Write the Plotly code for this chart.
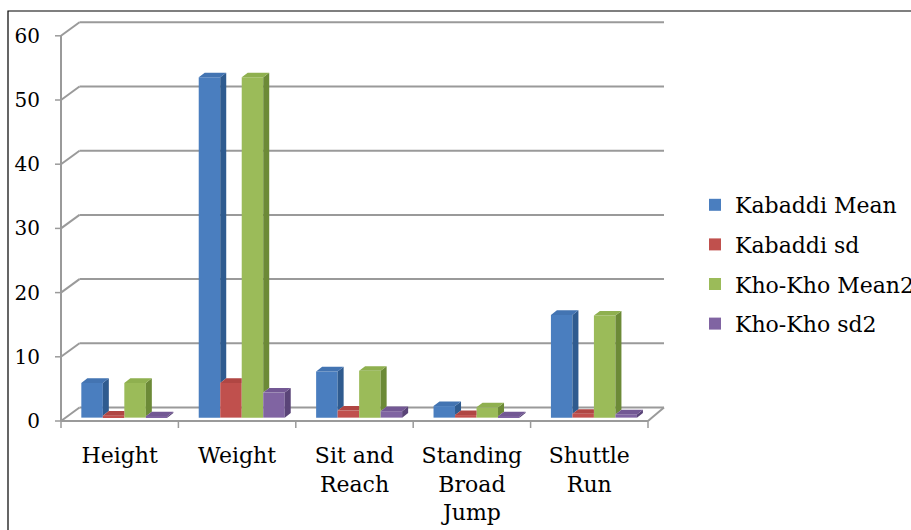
import plotly.graph_objects as go

# ---- data -------------------------------------------------------------
categories = ["Height", "Weight", "Sit and Reach", "Standing Broad Jump", "Shuttle Run"]
category_labels = ["Height", "Weight", "Sit and<br>Reach", "Standing<br>Broad<br>Jump", "Shuttle<br>Run"]
kabaddi_mean = [5.4, 53.0, 7.2, 1.8, 16.0]
kabaddi_sd = [0.3, 5.4, 1.1, 0.4, 0.6]
khokho_mean = [5.4, 53.0, 7.3, 1.6, 15.9]
khokho_sd = [0.2, 3.9, 1.0, 0.2, 0.5]
y_ticks = [0, 10, 20, 30, 40, 50, 60]

series_names = ["Kabaddi Mean", "Kabaddi sd", "Kho-Kho Mean2", "Kho-Kho sd2"]
series_values = [kabaddi_mean, kabaddi_sd, khokho_mean, khokho_sd]
# (front, side, top) shades for each series
series_colors = [
    ("#4a7ebf", "#2f5b8f", "#4374b2"),
    ("#c0504d", "#8c3532", "#b04643"),
    ("#9bbb59", "#6c8a37", "#8fb04f"),
    ("#8064a2", "#5a4478", "#735894"),
]

# ---- figure geometry ------------------------------------------------------
W, H = 911, 530
PLOT_L, PLOT_R, PLOT_T, PLOT_B = 53, 675, 15, 432
AXIS_X_PX, AXIS_Y_PX = 61, 421          # front-left corner of the floor
PX_PER_CAT, PX_PER_VAL = 117.4, 6.42

def ux(px):
    return (px - AXIS_X_PX) / PX_PER_CAT

def uy(px):
    return (AXIS_Y_PX - px) / PX_PER_VAL

def paper_x(px):
    return (px - PLOT_L) / (PLOT_R - PLOT_L)

def paper_y(px):
    return (PLOT_B - px) / (PLOT_B - PLOT_T)

x_range = [ux(PLOT_L), ux(PLOT_R)]
y_range = [uy(PLOT_B), uy(PLOT_T)]

n_cat = len(categories)
wall_dx = 18.5 / PX_PER_CAT         # depth of the box (back wall offset)
wall_dy = 13.5 / PX_PER_VAL
right_dx = 16 / PX_PER_CAT
bar_depth_frac = 0.25               # columns stand a quarter of the way back
bar_dx = 6 / PX_PER_CAT             # column thickness in depth
bar_dy = 4.6 / PX_PER_VAL
bar_w = 21.5 / PX_PER_CAT
bar_base = bar_depth_frac * wall_dy
shift_x = bar_depth_frac * wall_dx
n_ser = len(series_values)

grid_col = "#9a9a9a"
shapes = []

def seg(x0, y0, x1, y1, width=2):
    shapes.append(dict(type="line", xref="x", yref="y", x0=x0, y0=y0, x1=x1, y1=y1,
                       line=dict(color=grid_col, width=width), layer="below"))

# back wall gridlines and the diagonals on the side wall
for v in y_ticks:
    seg(wall_dx, v + wall_dy, n_cat + right_dx, v + wall_dy)
    seg(0, v, wall_dx, v + wall_dy)
    seg(-6 / PX_PER_CAT, v, 0, v, width=1.5)
# front vertical axis
seg(0, 0, 0, max(y_ticks))
# floor front edge and right edge
seg(0, 0, n_cat, 0)
seg(n_cat, 0, n_cat + right_dx, wall_dy)
# category boundary ticks
for i in range(n_cat + 1):
    seg(i, 0, i, -7 / PX_PER_VAL, width=1.5)

# outer frame of the chart
shapes.append(dict(type="rect", xref="paper", yref="paper",
                   x0=paper_x(8), x1=3, y0=-3, y1=paper_y(11),
                   line=dict(color="black", width=1.2), fillcolor="rgba(0,0,0,0)", layer="below"))

fig = go.Figure()

# front faces of the columns
positions = []
for s, (name, vals, cols) in enumerate(zip(series_names, series_values, series_colors)):
    xs = [c + 0.5 + shift_x + (s - (n_ser - 1) / 2) * bar_w for c in range(n_cat)]
    positions.append(xs)
    fig.add_trace(go.Bar(
        x=xs, y=vals, base=bar_base, width=bar_w, name=name,
        marker=dict(color=cols[0], line=dict(width=0)),
        legendgroup=name, customdata=categories,
        hovertemplate="%{customdata}: %{y}<extra>" + name + "</extra>",
    ))

# side and top faces, built from the same values
for s, (name, vals, cols) in enumerate(zip(series_names, series_values, series_colors)):
    side_x, side_y, top_x, top_y = [], [], [], []
    for c in range(n_cat):
        xl = positions[s][c] - bar_w / 2
        xr = positions[s][c] + bar_w / 2
        top = bar_base + vals[c]
        nxt = bar_base + series_values[s + 1][c] if s + 1 < n_ser else None
        low = bar_base if nxt is None else max(bar_base, nxt)
        if low < top:
            side_x += [xr, xr, xr + bar_dx, xr + bar_dx, xr, None]
            side_y += [low, top, top + bar_dy, low + bar_dy, low, None]
        if nxt is not None and nxt > top:
            top_x += [xl, xr, xr, xl + bar_dx, xl, None]
            top_y += [top, top, top + bar_dy, top + bar_dy, top, None]
        else:
            top_x += [xl, xr, xr + bar_dx, xl + bar_dx, xl, None]
            top_y += [top, top, top + bar_dy, top + bar_dy, top, None]
    for fx, fy, col in ((side_x, side_y, cols[1]), (top_x, top_y, cols[2])):
        if fx:
            fig.add_trace(go.Scatter(
                x=fx, y=fy, mode="lines", fill="toself", fillcolor=col,
                line=dict(width=0, color=col), showlegend=False,
                hoverinfo="skip", legendgroup=name,
            ))

serif = "DejaVu Serif"
fig.update_layout(
    width=W, height=H,
    margin=dict(l=PLOT_L, r=W - PLOT_R, t=PLOT_T, b=H - PLOT_B, pad=0, autoexpand=False),
    paper_bgcolor="white", plot_bgcolor="white",
    barmode="overlay",
    shapes=shapes,
    showlegend=True,
    legend=dict(
        x=paper_x(695), xanchor="left",
        y=paper_y(184), yanchor="top",
        font=dict(family=serif, size=22, color="black"),
        bgcolor="rgba(0,0,0,0)", borderwidth=0,
        tracegroupgap=8, itemclick=False,
    ),
    xaxis=dict(
        range=x_range, showgrid=False, zeroline=False, showline=False,
        tickmode="array", tickvals=[c + 0.5 for c in range(n_cat)],
        ticktext=category_labels, ticks="",
        tickfont=dict(family=serif, size=22, color="black"),
        ticklabelstandoff=8,
    ),
    yaxis=dict(
        range=y_range, showgrid=False, zeroline=False, showline=False,
        tickmode="array", tickvals=y_ticks, ticks="",
        tickfont=dict(family=serif, size=20, color="black"),
        ticklabelstandoff=12,
    ),
)

fig.write_html("out.html")
